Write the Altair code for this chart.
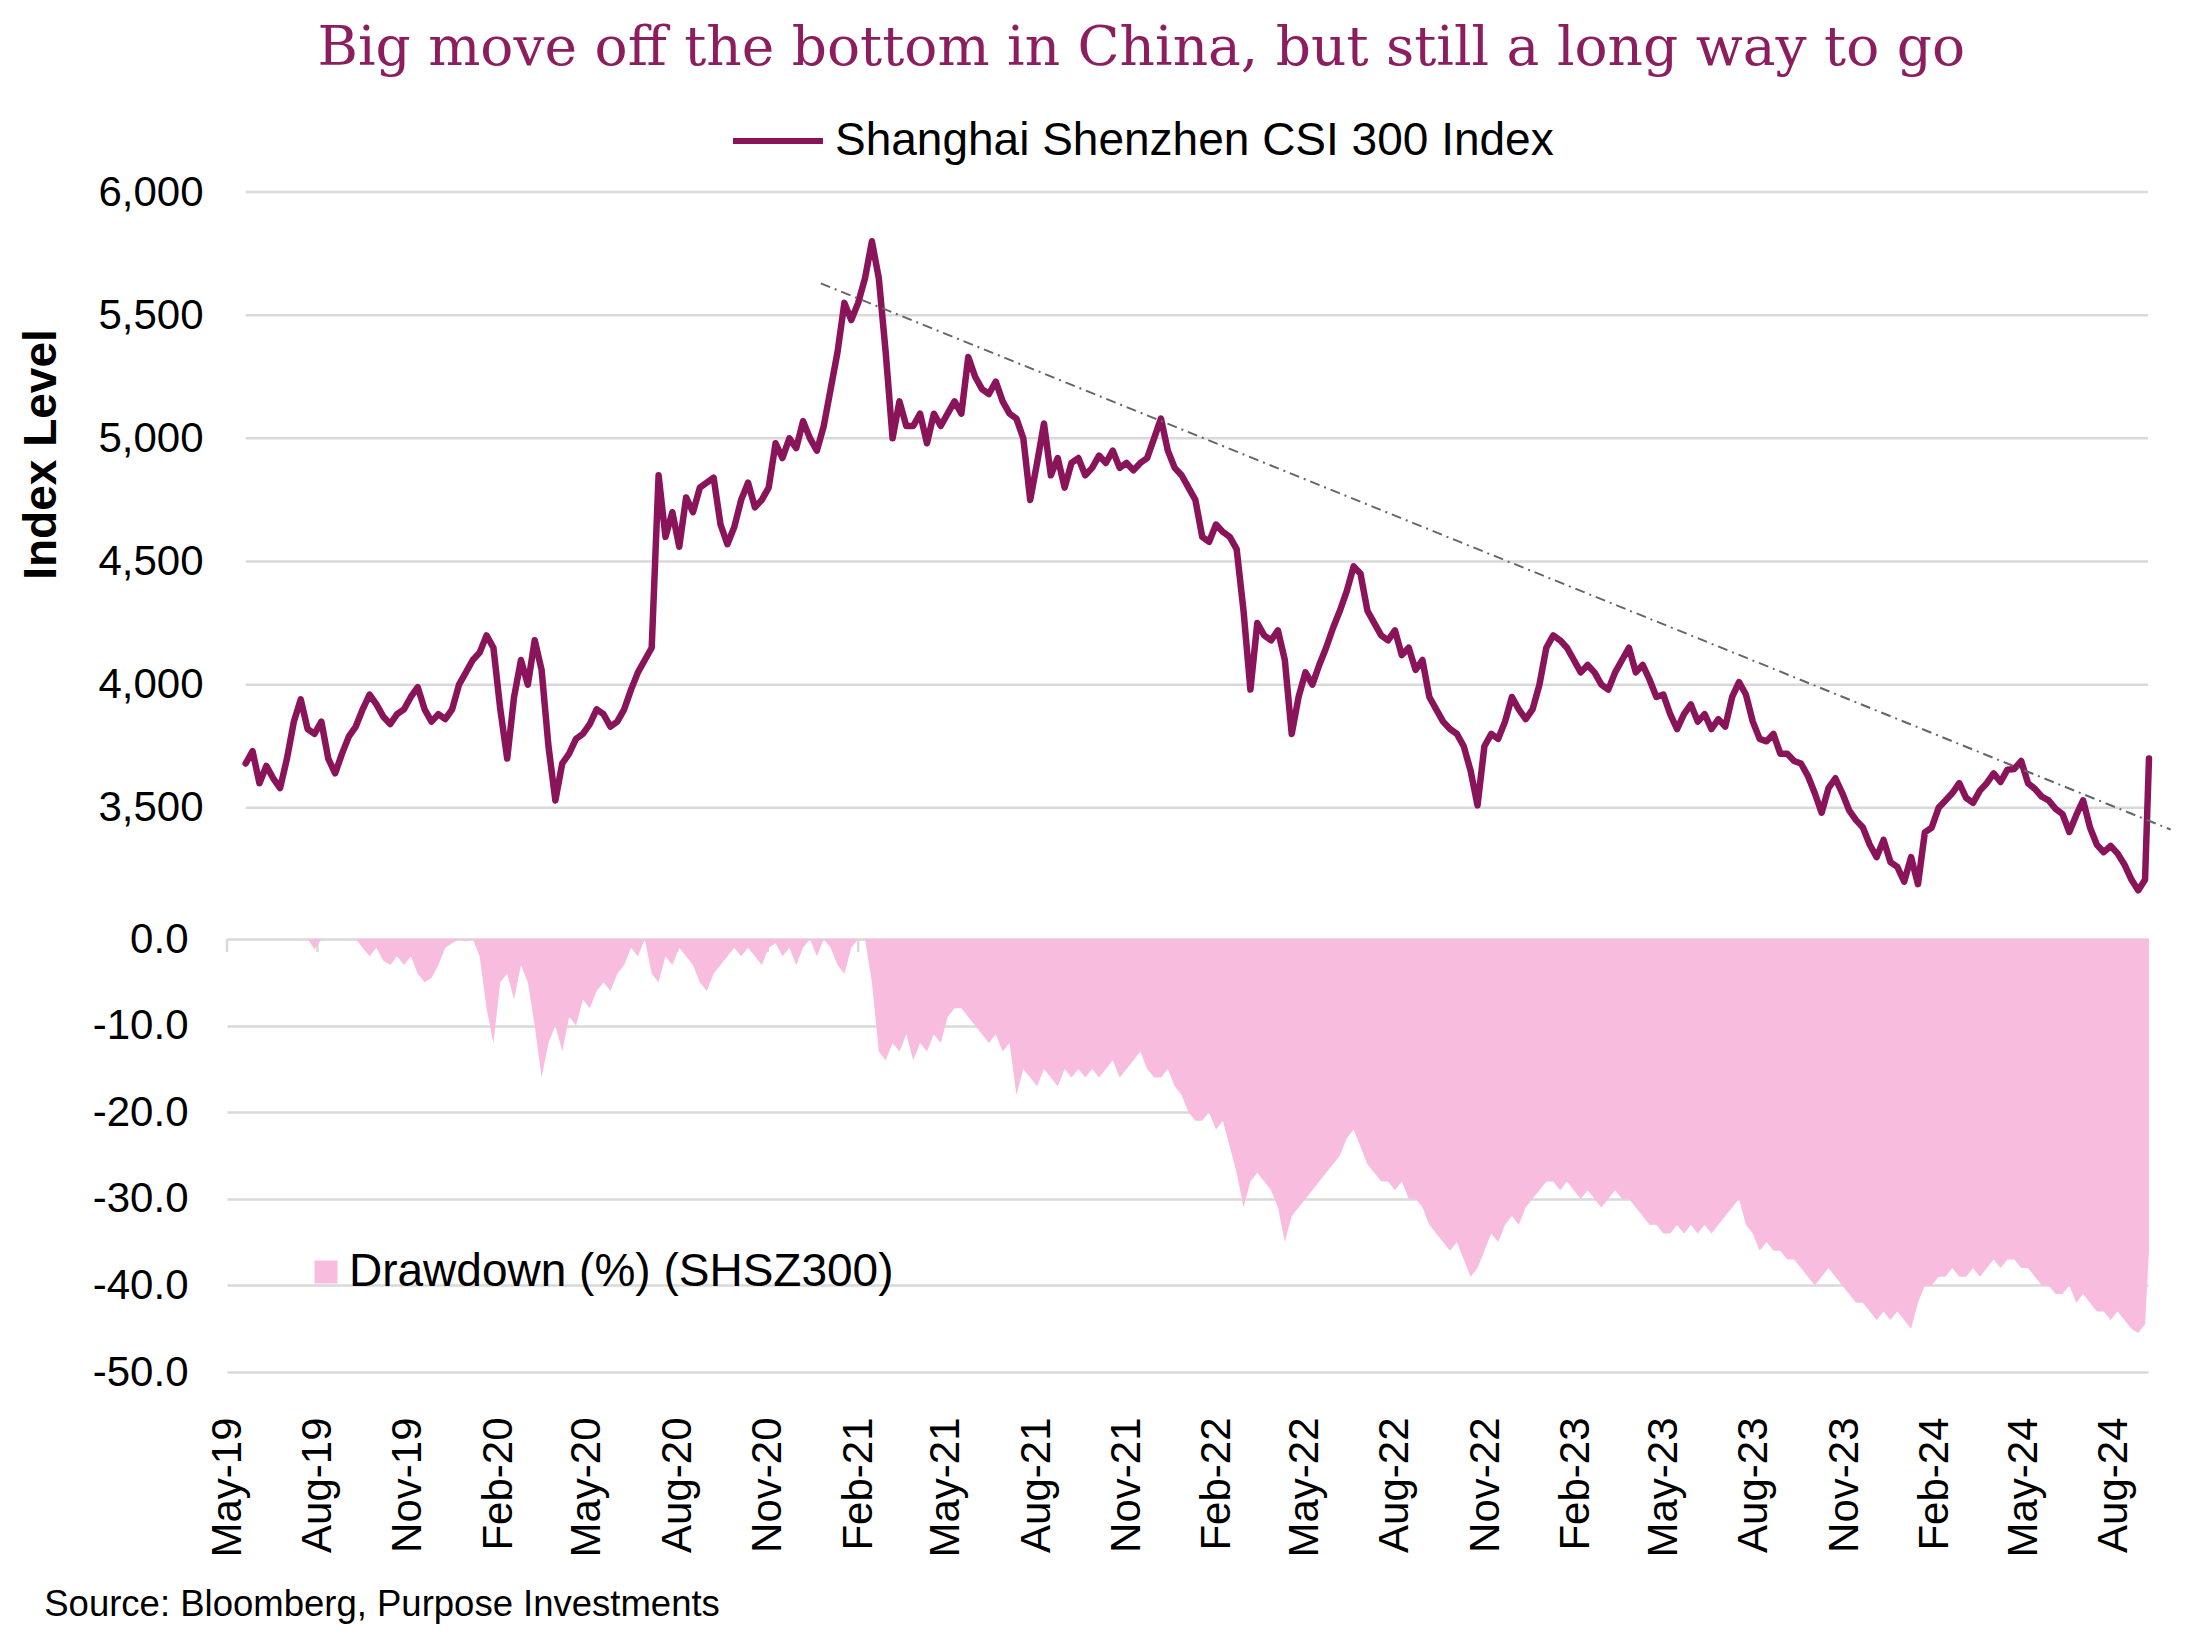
import altair as alt
import pandas as pd

TITLE = "Big move off the bottom in China, but still a long way to go"
LINE_NAME = "Shanghai Shenzhen CSI 300 Index"
AREA_NAME = "Drawdown (%) (SHSZ300)"
SOURCE = "Source: Bloomberg, Purpose Investments"
Y_TITLE = "Index Level"

TITLE_COLOR = "#8C1D5E"
LINE_COLOR = "#8A1459"
AREA_COLOR = "#F8BCDF"
GRID_COLOR = "#D9D9D9"
TREND_COLOR = "#666666"

# x axis frame
X_START = (2019, 5, 25)
X_END = (2024, 9, 29)
TICK_DATES = [(y, m, 25) for y in range(2019, 2025) for m in (2, 5, 8, 11)
              if (y, m) >= (2019, 5) and (y, m) <= (2024, 8)]

INDEX_TICKS = [3500, 4000, 4500, 5000, 5500, 6000]
INDEX_DOMAIN = [3000, 6000]
DD_TICKS = [0, -10, -20, -30, -40, -50]
DD_DOMAIN = [-50, 0]

# weekly readings of the index, starting at SERIES_START
SERIES_START = "2019-06-13"
index_values = [
    3680, 3730, 3600, 3670, 3620, 3580, 3700, 3850, 3940, 3820,
    3800, 3850, 3700, 3640, 3720, 3790, 3830, 3900, 3960, 3920,
    3870, 3840, 3880, 3900, 3950, 3990, 3900, 3850, 3880, 3860,
    3900, 4000, 4050, 4100, 4130, 4200, 4150, 3900, 3700, 3950,
    4100, 4000, 4180, 4060, 3750, 3530, 3680, 3720, 3780, 3800,
    3840, 3900, 3880, 3830, 3850, 3900, 3980, 4050, 4100, 4150,
    4850, 4600, 4700, 4560, 4760, 4700, 4800, 4820, 4840, 4650,
    4570, 4640, 4750, 4820, 4720, 4750, 4800, 4980, 4920, 5000,
    4960, 5070, 5000, 4950, 5050, 5200, 5350, 5550, 5480, 5550,
    5650, 5800, 5650, 5350, 5000, 5150, 5050, 5050, 5100, 4980,
    5100, 5050, 5100, 5150, 5100, 5330, 5250, 5200, 5180, 5230,
    5150, 5100, 5080, 5000, 4750, 4900, 5060, 4850, 4920, 4800,
    4900, 4920, 4850, 4880, 4930, 4900, 4950, 4880, 4900, 4870,
    4900, 4920, 5000, 5080, 4950, 4880, 4850, 4800, 4750, 4600,
    4580, 4650, 4620, 4600, 4550, 4300, 3980, 4250, 4200, 4180,
    4220, 4100, 3800, 3950, 4050, 4000, 4080, 4150, 4230, 4300,
    4380, 4480, 4450, 4300, 4250, 4200, 4180, 4220, 4120, 4150,
    4060, 4100, 3950, 3900, 3850, 3820, 3800, 3750, 3650, 3510,
    3750, 3800, 3780, 3850, 3950, 3900, 3860, 3900, 4000, 4150,
    4200, 4180, 4150, 4100, 4050, 4080, 4050, 4000, 3980, 4050,
    4100, 4150, 4050, 4080, 4020, 3950, 3960, 3880, 3820, 3880,
    3920, 3850, 3880, 3820, 3860, 3830, 3950, 4010, 3960, 3850,
    3780, 3770, 3800, 3720, 3720, 3690, 3680, 3630, 3560, 3480,
    3580, 3620, 3560, 3490, 3450, 3420, 3350, 3300, 3370, 3280,
    3260, 3200, 3300, 3190, 3400, 3420, 3500, 3530, 3560, 3600,
    3540, 3520, 3570, 3600, 3640,
    3605, 3655, 3658, 3690, 3600, 3577, 3545, 3530, 3496, 3475,
    3402, 3470, 3530, 3420, 3350, 3320, 3345, 3315, 3270, 3210,
    3165, 3208,
]
FINAL_DATE = "2024-09-30"
FINAL_INDEX = 3700

drawdown_values = [
    0, 0, 0, 0, 0, 0, 0, 0, 0, 0,
    -1.2, 0, 0, 0, 0, 0, 0, -1, -2, -1,
    -2.5, -3, -2, -3, -2, -4, -5, -4.5, -3, -1,
    -0.5, 0, -0.3, 0, -2, -8, -12, -5, -4, -7,
    -3, -5, -10, -16, -12, -10, -13, -9, -10, -7,
    -8, -6, -5, -6, -4, -3, -1, -2, 0, -4,
    -5, -2, -3, -1, -2, -3, -5, -6, -4, -3,
    -2, -1, -2, -1, -2, -3, -1, -0.5, -2, -1,
    -3, -1, 0, -2, 0, -1, -3, -4, -1, 0,
    0, -5, -13, -14, -12, -13, -11, -14, -12, -13,
    -11, -12, -9, -8, -8, -9, -10, -11, -12, -11,
    -13, -12, -18, -15, -16, -17, -15, -16, -17, -15,
    -16, -15, -16, -15, -16, -15, -14, -16, -15, -14,
    -13, -15, -16, -16, -15, -17, -18, -20, -21, -21,
    -20, -22, -21, -24, -27, -31, -28, -27, -28, -29,
    -31, -35, -32, -31, -30, -29, -28, -27, -26, -25,
    -23, -22, -24, -26, -27, -28, -28, -29, -28, -30,
    -30, -31, -33, -34, -35, -36, -35, -37, -39, -38,
    -36, -34, -35, -33, -32, -33, -31, -30, -29, -28,
    -28, -29, -28, -29, -30, -29, -30, -31, -30, -29,
    -30, -30, -31, -32, -33, -33, -34, -34, -33, -34,
    -33, -34, -33, -34, -33, -32, -31, -30, -33, -34,
    -36, -35, -36, -36, -37, -37, -38, -39, -40, -39,
    -38, -39, -40, -41, -42, -42, -43, -44, -43, -44,
    -43, -44, -45, -42, -40, -40, -39, -39, -38, -39,
    -39, -38, -39, -38, -37, -38, -37, -37, -38, -38,
    -39, -40, -40, -41, -41, -40, -42, -41, -42, -43,
    -43, -44, -43, -44, -45, -45.5, -44.5,
]
FINAL_DRAWDOWN = -36

TREND_DATES = ["2021-01-18", "2024-10-22"]
TREND_VALUES = [5629, 3412]


def dt(t):
    return alt.DateTime(year=t[0], month=t[1], date=t[2])


def iso(t):
    return "%04d-%02d-%02d" % t


weekly = pd.date_range(SERIES_START, periods=len(index_values), freq="7D").strftime("%Y-%m-%d").tolist()
line_df = pd.DataFrame({"date": weekly + [FINAL_DATE],
                        "value": index_values + [FINAL_INDEX],
                        "series": LINE_NAME})
dd_df = pd.DataFrame({"date": [iso(X_START)] + weekly + [FINAL_DATE],
                      "value": [0] + drawdown_values + [FINAL_DRAWDOWN],
                      "series": AREA_NAME})
grid_df = pd.DataFrame({"y": INDEX_TICKS, "x": SERIES_START, "x2": iso(X_END)})
trend_df = pd.DataFrame({"date": TREND_DATES, "value": TREND_VALUES})
tick_df = pd.DataFrame({"date": [iso(t) for t in TICK_DATES], "y": 0, "y2": -1.5})

FONT = "Liberation Sans"
W = 1921
x_scale = alt.Scale(domain=[dt(X_START), dt(X_END)])
y_top_scale = alt.Scale(domain=INDEX_DOMAIN, nice=False, zero=False)
y_top_axis = alt.Axis(values=INDEX_TICKS, format=",.0f", grid=False, ticks=False, domain=False,
                      labelFont=FONT, labelFontSize=42, labelColor="black", labelPadding=24,
                      title=Y_TITLE, titleFont=FONT, titleFontSize=46, titleFontWeight="bold",
                      titleColor="black", titleAngle=270, titleX=-186, titleY=262,
                      titleAlign="center", titleBaseline="middle")

grid_top = alt.Chart(grid_df).mark_rule(color=GRID_COLOR, strokeWidth=2.5).encode(
    x=alt.X("x:T", scale=x_scale, axis=None),
    x2="x2:T",
    y=alt.Y("y:Q", scale=y_top_scale, axis=y_top_axis),
)
line = alt.Chart(line_df).mark_line(strokeWidth=6.5, strokeJoin="round", strokeCap="round").encode(
    x=alt.X("date:T", scale=x_scale, axis=None),
    y=alt.Y("value:Q", scale=y_top_scale, axis=y_top_axis),
    color=alt.Color("series:N", scale=alt.Scale(range=[LINE_COLOR]),
                    legend=alt.Legend(title=None, orient="none", legendX=503, legendY=-99,
                                      symbolType="stroke", symbolSize=8100, symbolStrokeWidth=6,
                                      labelFont=FONT, labelFontSize=46, labelColor="black",
                                      labelOffset=9, padding=0, labelLimit=0)),
)
trend = alt.Chart(trend_df).mark_line(color=TREND_COLOR, strokeWidth=2, strokeDash=[10, 5, 2, 5]).encode(
    x=alt.X("date:T", scale=x_scale, axis=None),
    y=alt.Y("value:Q", scale=y_top_scale, axis=y_top_axis),
)
top = alt.layer(grid_top, line, trend).properties(width=W, height=739)

y_bot_scale = alt.Scale(domain=DD_DOMAIN, nice=False)
y_bot_axis = alt.Axis(values=DD_TICKS, labelExpr="replace(format(datum.value, '.1f'), '\u2212', '-')",
                      grid=True, gridColor=GRID_COLOR, gridWidth=2.5,
                      ticks=False, domain=False, labelFont=FONT, labelFontSize=42,
                      labelColor="black", labelPadding=39, title=None)
x_bot_axis = alt.Axis(values=[dt(t) for t in TICK_DATES], format="%b-%y", labelAngle=270,
                      labelAlign="right", labelBaseline="middle", labelPadding=45,
                      labelFont=FONT, labelFontSize=42, labelColor="black",
                      labelFlush=False, labelOverlap=False, domain=False, ticks=False,
                      grid=False, title=None)

ticks = alt.Chart(tick_df).mark_rule(color=GRID_COLOR, strokeWidth=2.5).encode(
    x=alt.X("date:T", scale=x_scale, axis=x_bot_axis),
    y=alt.Y("y:Q", scale=y_bot_scale, axis=y_bot_axis),
    y2="y2:Q",
)
area = alt.Chart(dd_df).mark_area(opacity=1).encode(
    x=alt.X("date:T", scale=x_scale, axis=x_bot_axis),
    y=alt.Y("value:Q", scale=y_bot_scale, axis=y_bot_axis),
    color=alt.Color("series:N", scale=alt.Scale(range=[AREA_COLOR]),
                    legend=alt.Legend(title=None, orient="none", legendX=76, legendY=310,
                                      symbolType="square", symbolSize=529, symbolStrokeWidth=0,
                                      symbolOpacity=1,
                                      labelFont=FONT, labelFontSize=46, labelColor="black",
                                      labelOffset=0, padding=0, labelLimit=0)),
)
bottom = alt.layer(ticks, area).properties(
    width=W, height=433,
    title=alt.TitleParams(SOURCE, orient="bottom", anchor="start", font=FONT, fontSize=36.5,
                          fontWeight="normal", color="black", dx=-48, offset=30),
)

chart = alt.vconcat(top, bottom, spacing=8, bounds="flush").resolve_scale(
    color="independent").resolve_legend(color="independent").properties(
    title=alt.TitleParams(TITLE, font="DejaVu Serif", fontSize=55, fontWeight="normal",
                          color=TITLE_COLOR, anchor="middle", offset=20, dx=45, dy=4),
    padding={"left": 18, "top": 21, "right": 10, "bottom": 10},
    background="white",
).configure_view(stroke=None)

chart.save("out.html", embed_options={"renderer": "svg", "actions": False})
